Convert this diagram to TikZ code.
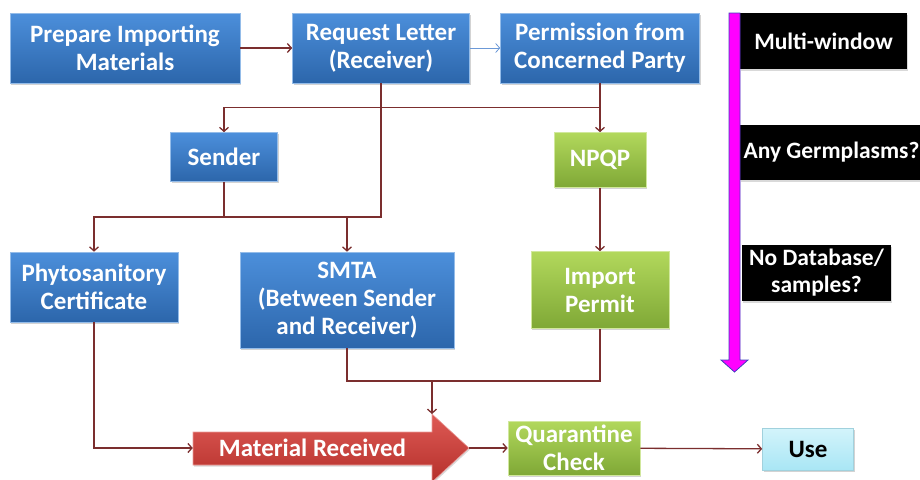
\documentclass[tikz,border=0pt]{standalone}
\usepackage{fontspec}
\setmainfont{Carlito}
\usetikzlibrary{arrows.meta,shadows}

\definecolor{linkred}{HTML}{7B2E2E}
\definecolor{bluetop}{HTML}{4C8FDB}
\definecolor{bluebot}{HTML}{2C66AB}
\definecolor{greentop}{HTML}{B2D85C}
\definecolor{greenbot}{HTML}{7FA836}
\definecolor{redtop}{HTML}{DE5A55}
\definecolor{redbot}{HTML}{B5302B}
\definecolor{usetop}{HTML}{D3F4FB}
\definecolor{usebot}{HTML}{A9E6F5}
\definecolor{barpink}{RGB}{255,0,255}

\tikzset{
	boxfont/.style={font=\fontsize{25}{28}\selectfont\bfseries},
	box/.style={rectangle, align=center, text=white, boxfont, line width=0.6pt,
		drop shadow={shadow xshift=1pt, shadow yshift=-1.5pt, opacity=0.35}},
	bluebox/.style={box, top color=bluetop, bottom color=bluebot, draw=bluetop!60!white},
	greenbox/.style={box, top color=greentop, bottom color=greenbot, draw=greentop!60!white},
	blackbox/.style={rectangle, align=center, text=white, fill=black, font=\fontsize{23.5}{27}\selectfont\bfseries,
		drop shadow={shadow xshift=1pt, shadow yshift=-1.5pt, opacity=0.3}},
	link/.style={draw=linkred, line width=1.3pt, ->},
}

\begin{document}
\begin{tikzpicture}[x=1pt, y=-1pt, >={Straight Barb[length=4pt,width=9pt]}]
		\useasboundingbox (0,0) rectangle (920,479);

		%obere Reihe
		\node[bluebox, minimum width=230pt, minimum height=70pt] (prep) at (125,48) {Prepare Importing\\Materials};
		\node[bluebox, minimum width=177pt, minimum height=70pt] (req) at (381,48) {Request Letter\\(Receiver)};
		\node[bluebox, minimum width=199pt, minimum height=70pt] (perm) at (600,48) {Permission from\\Concerned Party};

		%mittlere Reihe
		\node[bluebox, minimum width=107pt, minimum height=49pt] (sender) at (224,157) {Sender};
		\node[greenbox, minimum width=92pt, minimum height=55pt] (npqp) at (600,160) {NPQP};
		\node[bluebox, minimum width=168pt, minimum height=70pt] (phyto) at (94,287) {Phytosanitory\\Certificate};
		\node[bluebox, minimum width=214pt, minimum height=96pt] (smta) at (347,300) {SMTA\\(Between Sender\\and Receiver)};
		\node[greenbox, minimum width=138pt, minimum height=77pt] (permit) at (600,290) {Import\\Permit};

		%Pfeil Material Received
		\shade[top color=redtop, bottom color=redbot, draw=redtop!60!white, line width=0.6pt,
			drop shadow={shadow xshift=1pt, shadow yshift=-1.5pt, opacity=0.3}]
			(193,432) -- (432,432) -- (432,414) -- (469,448) -- (432,482) -- (432,465) -- (193,465) -- cycle;
		\node[boxfont, text=white, minimum width=239pt, minimum height=33pt] (recv) at (312.5,448) {Material Received};
		\coordinate (recvtip) at (469,448);
		\coordinate (recvhead) at (432,414);

		%untere Reihe
		\node[greenbox, minimum width=132pt, minimum height=54pt] (quar) at (574,448) {Quarantine\\Check};
		\node[box, text=black, top color=usetop, bottom color=usebot, draw=usebot!80!gray,
			minimum width=91pt, minimum height=42pt] (use) at (808,449) {Use};

		%schwarze Kaesten rechts
		\node[blackbox, minimum width=167pt, minimum height=56pt] (mw) at (823.5,41) {Multi-window};
		\node[blackbox, minimum width=181pt, minimum height=55pt] (germ) at (831.5,152.5) {Any Germplasms?};
		\node[blackbox, minimum width=149pt, minimum height=56pt] (nodb) at (816.5,273) {No Database/\\samples?};

		%Magenta Pfeil
		\draw[fill=barpink, draw=blue!50!gray, line width=0.8pt]
			(729,13) -- (740,13) -- (740,360) -- (748,360) -- (734.5,372) -- (721,360) -- (729,360) -- cycle;

		%Verbindungen
		\coordinate (split) at (224,217);
		\coordinate (merge) at (432,381);
		\draw[link] (prep) -- (req);
		\draw[draw=cyan!50!blue!60, line width=0.8pt, ->] (req) -- (perm);
		\draw[link] (perm) -- (npqp);
		\draw[link] (perm.south) ++(0,24) -| (sender);
		\draw[line width=1.3pt, draw=linkred] (sender) -- (split);
		\draw[link] (req.south) |- (split) -| (phyto);
		\draw[link] (smta.north |- split) -- (smta);
		\draw[link] (npqp) -- (permit);
		\draw[link] (phyto) |- (recv);
		\draw[link] (smta) |- (merge) -- (recvhead);
		\draw[line width=1.3pt, draw=linkred] (permit) |- (merge);
		\draw[link] (recvtip) -- (quar);
		\draw[link] (quar) -- (use);

\end{tikzpicture}
\end{document}
